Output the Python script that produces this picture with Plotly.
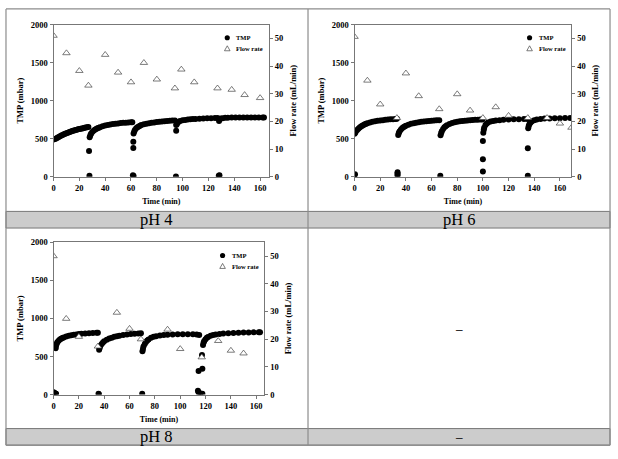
import plotly.graph_objects as go

SERIF = "Liberation Serif"
W, H = 618, 459

# ---- data ----
panel_labels = ["pH 4", "pH 6", "pH 8"]
x_ticks = [0, 20, 40, 60, 80, 100, 120, 140, 160]
tmp_ticks = [0, 500, 1000, 1500, 2000]
flow_ticks = [0, 10, 20, 30, 40, 50]

# pH 4
tmp4_t = [0, 1, 2, 3, 4, 5, 6, 7, 8, 9, 10, 11, 12, 13, 14, 15, 16, 17, 18, 19, 20,
          21, 22, 23, 24, 25, 26, 27, 27.5, 27.8,
          28, 28.5, 29, 30, 31, 32, 33, 34, 35, 36, 38, 40, 42, 44, 46, 48, 50, 52, 54,
          56, 58, 60, 61, 61.8, 61.8, 61.5, 62,
          62, 62.5, 63, 64, 65, 66, 67, 68, 70, 72, 74, 76, 78, 80, 82, 84, 86, 88, 90,
          92, 94, 95, 95, 94.8,
          95.5, 96, 97, 98, 100, 102, 104, 106, 108, 110, 113, 116, 119, 122, 125, 127,
          128.2, 128, 128.5,
          128.7, 129.5, 131, 133, 135, 138, 141, 144, 147, 150, 153, 156, 159, 162, 163]
tmp4_v = [490, 497, 505, 515, 525, 535, 543, 551, 559, 566, 573, 580, 586, 592, 598, 604,
          609, 614, 619, 624, 628, 632, 636, 640, 644, 648, 651, 655, 340, 15,
          520, 545, 565, 590, 607, 620, 630, 639, 646, 653, 664, 673, 681, 687, 693, 698,
          702, 706, 709, 712, 715, 717, 718, 460, 380, 20, 10,
          570, 595, 615, 637, 652, 663, 672, 680, 690, 698, 705, 710, 715, 719, 723, 727,
          730, 733, 736, 739, 741, 605, 680, 5,
          690, 712, 725, 733, 742, 748, 752, 756, 759, 761, 764, 767, 769, 771, 773, 774,
          733, 15, 20,
          755, 765, 771, 775, 777, 778, 779, 780, 780, 781, 781, 781, 781, 781, 781]
flow4_t = [0, 10, 20, 27, 40, 50, 60, 70, 80, 94, 99, 109, 127, 138, 148, 160]
flow4_v = [51, 44.7, 38.3, 33.0, 44.1, 37.7, 34.2, 41.2, 35.2, 32.0, 38.8, 34.2, 32.0,
           31.5, 29.6, 28.5]

# pH 6
tmp6_t = [0, 0.3,
          0, 0.5, 1, 2, 3, 4, 5, 6, 7, 8, 9, 10, 12, 14, 16, 18, 20, 22, 24, 26, 28, 30,
          32, 33, 33.5, 33.5, 33.5,
          34, 34.5, 35, 36, 37, 38, 39, 40, 42, 44, 46, 48, 50, 52, 54, 56, 58, 60, 62,
          64, 66, 66.8,
          67, 67.5, 68, 69, 70, 71, 72, 74, 76, 78, 80, 82, 84, 86, 88, 90, 92, 94, 96,
          98, 99.5, 100, 100, 100,
          100.3, 100.7, 101, 102, 103, 104, 106, 108, 110, 113, 116, 120, 124, 128, 132,
          134.5, 135, 135,
          135.3, 135.7, 136.2, 137, 138, 140, 142, 145, 148, 152, 156, 160, 164, 168]
tmp6_v = [25, 35,
          565, 580, 595, 615, 632, 647, 660, 672, 682, 691, 698, 705, 715, 723, 730, 736,
          741, 745, 749, 752, 755, 758, 760, 762, 60, 40, 20,
          550, 575, 595, 620, 638, 652, 663, 672, 686, 697, 705, 712, 718, 723, 727, 731,
          734, 737, 740, 742, 744, 15,
          545, 575, 600, 630, 650, 665, 677, 695, 707, 716, 723, 729, 734, 738, 741, 744,
          747, 749, 751, 753, 754, 470, 230, 70,
          580, 620, 645, 680, 700, 713, 727, 735, 740, 745, 749, 752, 755, 757, 759, 760,
          375, 15,
          640, 668, 690, 712, 727, 742, 752, 760, 765, 768, 770, 771, 772, 773]
flow6_t = [0, 10, 20, 33, 40, 50, 66, 80, 90, 100, 110, 120, 135, 150, 160, 169]
flow6_v = [50.6, 34.8, 26.2, 21.3, 37.4, 29.2, 24.5, 29.9, 24.0, 21.3, 25.2, 22.1, 21.3,
           21.3, 19.3, 17.8]

# pH 8
tmp8_t = [0, 0.5, 1.5, 2,
          1.7, 2, 2.5, 3, 4, 5, 6, 7, 8, 10, 12, 14, 16, 18, 20, 22, 25, 28, 31, 34, 35,
          35.5, 35.8,
          36, 36.5, 37, 38, 39, 40, 42, 44, 46, 48, 50, 52, 55, 58, 61, 64, 67, 69, 70,
          70.2, 70.6, 71, 72, 73, 74, 75, 77, 79, 81, 84, 87, 90, 94, 98, 102, 106, 110,
          113, 115,
          114.5, 117.5, 117.2, 114, 114.5, 116, 117.5,
          118, 118.5, 119, 120, 121, 122, 124, 126, 128, 131, 134, 138, 142, 146, 150,
          154, 158, 162, 163]
tmp8_v = [30, 25, 15, 12,
          610, 640, 668, 688, 707, 722, 733, 742, 750, 762, 772, 779, 785, 790, 794, 798,
          802, 806, 809, 812, 813, 10, 5,
          590, 615, 640, 665, 685, 700, 720, 736, 748, 758, 766, 773, 781, 788, 794, 799,
          803, 806, 10,
          570, 600, 630, 665, 690, 710, 725, 745, 758, 767, 776, 782, 786, 789, 791, 792,
          792, 791, 788, 783,
          310, 340, 520, 50, 30, 15, 10,
          650, 685, 705, 728, 745, 757, 772, 782, 789, 796, 801, 806, 809, 812, 814, 816,
          817, 818, 818]
flow8_t = [0, 10, 20, 35, 50, 60, 69, 90, 100, 117, 130, 140, 150]
flow8_v = [50, 27.4, 20.9, 17.4, 29.6, 23.8, 20.0, 23.5, 16.5, 13.5, 19.4, 15.9, 14.9]

series = [(tmp4_t, tmp4_v, flow4_t, flow4_v),
          (tmp6_t, tmp6_v, flow6_t, flow6_v),
          (tmp8_t, tmp8_v, flow8_t, flow8_v)]

# ---- page geometry (pixels) ----
panels = [dict(x0=51.7, x1=268.0, y0=20.0, y1=175.7, xmax=167),
          dict(x0=353.7, x1=571.3, y0=20.0, y1=175.7, xmax=169),
          dict(x0=51.7, x1=263.3, y0=242.5, y1=398.3, xmax=166.5)]
T_L, T_M, T_R = 4, 307, 610
T_TOP = 4
BAND1 = (211, 228)
BAND2 = (433, 450)


def px(x):
    return x / W


def py(y):
    return 1 - y / H


fig = go.Figure()
layout = dict(width=W, height=H, margin=dict(l=0, r=0, t=0, b=0),
              paper_bgcolor="white", plot_bgcolor="white", showlegend=False)

axis_col = "#777777"
tick_font = dict(family=SERIF, size=8.5, color="black", weight="bold")
title_font = dict(family=SERIF, size=8.5, color="black", weight="bold")

shapes = []
annotations = []

for i, (p, (tt, tv, ft, fv)) in enumerate(zip(panels, series)):
    n = i + 1
    xs = "" if n == 1 else str(n)
    yl = 2 * n - 1
    yr = 2 * n
    yl_s = "" if yl == 1 else str(yl)
    xname, ylname, yrname = "x" + xs, "y" + yl_s, "y" + str(yr)

    fig.add_trace(go.Scatter(x=tt, y=tv, mode="markers", name="TMP",
                             xaxis=xname, yaxis=ylname,
                             marker=dict(symbol="circle", size=6, color="black")))
    fig.add_trace(go.Scatter(x=ft, y=fv, mode="markers", name="Flow rate",
                             xaxis=xname, yaxis=yrname,
                             marker=dict(symbol="triangle-up", size=6.5, color="white",
                                         line=dict(color="#444444", width=0.7))))

    layout["xaxis" + xs] = dict(
        domain=[px(p["x0"]), px(p["x1"])], anchor=ylname, range=[0, p["xmax"]],
        tickvals=x_ticks, ticks="outside", ticklen=3, tickcolor=axis_col,
        showline=True, linecolor=axis_col, linewidth=1, mirror=True,
        showgrid=False, zeroline=False, tickfont=tick_font,
        title=dict(text="Time (min)", font=dict(family=SERIF, size=8, color="black",
                                                weight="bold"), standoff=6))
    layout["yaxis" + yl_s] = dict(
        domain=[py(p["y1"]), py(p["y0"])], anchor=xname, range=[0, 2000],
        tickvals=tmp_ticks, ticks="outside", ticklen=3, tickcolor=axis_col,
        showline=True, linecolor=axis_col, linewidth=1,
        showgrid=False, zeroline=False, tickfont=tick_font,
        title=dict(text="TMP (mbar)", font=title_font, standoff=5))
    layout["yaxis" + str(yr)] = dict(
        overlaying=ylname, side="right", anchor=xname, range=[0, 55],
        tickvals=flow_ticks, ticks="outside", ticklen=3, tickcolor=axis_col,
        showline=True, linecolor=axis_col, linewidth=1,
        showgrid=False, zeroline=False, tickfont=tick_font,
        title=dict(text="Flow rate (mL/min)", font=title_font, standoff=7))

    # in-plot legend
    cx = p["x1"] - 42
    cy1 = p["y0"] + 13.5
    cy2 = p["y0"] + 24.5
    shapes.append(dict(type="circle", xref="paper", yref="paper",
                       x0=px(cx - 2.6), x1=px(cx + 2.6), y0=py(cy1 + 2.6), y1=py(cy1 - 2.6),
                       fillcolor="black", line=dict(width=0)))
    shapes.append(dict(type="path", xref="paper", yref="paper",
                       path="M %f,%f L %f,%f L %f,%f Z" % (px(cx - 2.8), py(cy2 + 2.3),
                                                          px(cx + 2.8), py(cy2 + 2.3),
                                                          px(cx), py(cy2 - 2.8)),
                       fillcolor="white", line=dict(color="#444444", width=0.7)))
    for txt, yy in (("TMP", cy1), ("Flow rate", cy2)):
        annotations.append(dict(text=txt, x=px(cx + 7), y=py(yy), xref="paper",
                                yref="paper", xanchor="left", yanchor="middle",
                                showarrow=False,
                                font=dict(family=SERIF, size=6.5, color="black",
                                          weight="bold")))

# ---- table frame ----
grey = "#8c8c8c"
for (b0, b1) in (BAND1, BAND2):
    shapes.append(dict(type="rect", xref="paper", yref="paper", layer="below",
                       x0=px(T_L), x1=px(T_R), y0=py(b1), y1=py(b0),
                       fillcolor="#cccccc", line=dict(color="#777777", width=1)))
frame_lines = [(T_L, T_TOP, T_R, T_TOP), (T_L, T_TOP, T_L, BAND2[1]),
               (T_R, T_TOP, T_R, BAND2[1]), (T_M, T_TOP, T_M, BAND2[1]),
               (T_L, BAND2[1], T_R, BAND2[1])]
for (xa, ya, xb, yb) in frame_lines:
    shapes.append(dict(type="line", xref="paper", yref="paper",
                       x0=px(xa), y0=py(ya), x1=px(xb), y1=py(yb),
                       line=dict(color=grey, width=1.2)))

label_pos = [((T_L + T_M) / 2, sum(BAND1) / 2), ((T_M + T_R) / 2, sum(BAND1) / 2),
             ((T_L + T_M) / 2, sum(BAND2) / 2)]
for lab, (lx, ly) in zip(panel_labels, label_pos):
    annotations.append(dict(text=lab, x=px(lx), y=py(ly), xref="paper", yref="paper",
                            xanchor="center", yanchor="middle", showarrow=False,
                            font=dict(family=SERIF, size=16.5, color="black")))
for ly in (331, sum(BAND2) / 2):
    annotations.append(dict(text="–", x=px((T_M + T_R) / 2), y=py(ly), xref="paper",
                            yref="paper", xanchor="center", yanchor="middle",
                            showarrow=False,
                            font=dict(family=SERIF, size=13, color="#222222",
                                      weight="bold")))

layout["shapes"] = shapes
layout["annotations"] = annotations
fig.update_layout(**layout)

# the page's default body margin would push the figure off its 618x459 frame
fig.write_html("out.html", config={"displayModeBar": False},
               post_script="document.body.style.margin='0';"
                           "document.body.style.overflow='hidden';")
